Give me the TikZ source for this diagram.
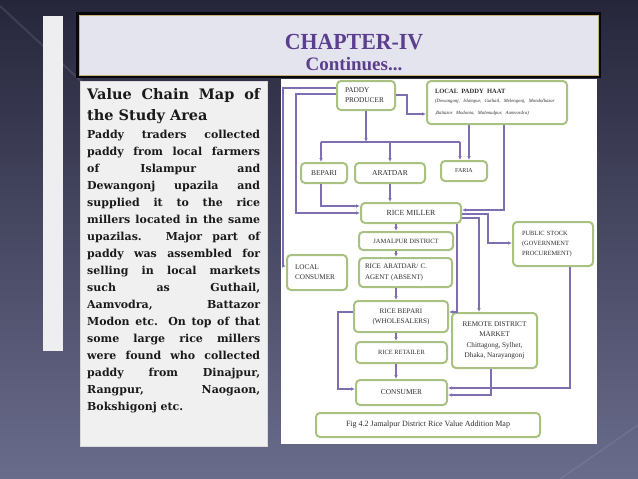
\documentclass[tikz,border=0pt]{standalone}
\usepackage{fontspec}
\usepackage{graphicx}
\setmainfont{Liberation Serif}
\newfontfamily\bodyfam{DejaVu Serif}
\usetikzlibrary{arrows.meta,calc}
\definecolor{bgtop}{HTML}{26263B}
\definecolor{bgbot}{HTML}{6A6C8C}
\definecolor{titlefill}{HTML}{E4E4EE}
\definecolor{titleedge}{HTML}{C8B27A}
\definecolor{titlepurple}{HTML}{5B3F8E}
\definecolor{panelgray}{HTML}{F0F0F0}
\definecolor{barwhite}{HTML}{EEEEF0}
\definecolor{boxgreen}{HTML}{A9C281}
\definecolor{arrowpurple}{HTML}{7F6FB0}
\definecolor{boxtext}{HTML}{2E2E2E}
\definecolor{textdark}{HTML}{1A1A1A}
\newcommand\bodyf{\bodyfam\bfseries\fontsize{11}{13}\selectfont}
\newcommand\headf{\bodyfam\bfseries\fontsize{14.5}{17}\selectfont}
\newcommand\jline[1]{\makebox[173pt][s]{#1}}
\tikzset{
  vbox/.style={draw=boxgreen, line width=2pt, fill=white, rounded corners=4pt,
    inner sep=2pt, text=boxtext},
  arr/.style={draw=arrowpurple, line width=1.1pt, -{Latex[length=4pt,width=3.6pt]}},
  wire/.style={draw=arrowpurple, line width=1.1pt},
  txtline/.style={anchor=base west, inner sep=0pt, text=textdark, font=\bodyf},
  headline/.style={anchor=base west, inner sep=0pt, text=textdark, font=\headf},
  titletext/.style={inner sep=0pt, text=titlepurple, font=\bfseries\fontsize{23}{23}\selectfont},
  conttext/.style={inner sep=0pt, text=titlepurple, font=\bfseries\fontsize{19}{19}\selectfont}
}
\begin{document}
\begin{tikzpicture}[x=1pt,y=-1pt]
\useasboundingbox (0,0) rectangle (638,479);
% background
\shade[top color=bgtop,bottom color=bgbot] (0,0) rectangle (638,479);
\draw[white,opacity=0.10,line width=2pt] (0,6) -- (82,82);
\draw[white,opacity=0.08,line width=1.5pt] (560,479) -- (638,425);
\fill[barwhite] (43,16) rectangle (63,351);
% title
\fill[black!80!bgtop] (76,12) rectangle (601,78);
\fill[titlefill] (79,15) rectangle (598,75);
\draw[titleedge,line width=0.6pt] (79,15) rectangle (598,75);
\node[titletext, anchor=base] (chap) at (354,49) {\scalebox{0.95}[1]{CHAPTER-IV}};
\node[conttext, anchor=base] (cont) at (354,70) {Continues...};
% left text panel
\fill[panelgray] (80,81) rectangle (267,446);
\draw[white!85!black,line width=0.5pt] (80,81) rectangle (267,446);
\node[headline] (h1) at (87,99) {\jline{Value Chain Map of}};
\node[headline] (h2) at (87,120) {the Study Area};
\node[txtline] (l1) at (87,138) {\jline{Paddy traders collected}};
\node[txtline] (l2) at (87,155) {\jline{paddy from local farmers}};
\node[txtline] (l3) at (87,172) {\jline{of Islampur and}};
\node[txtline] (l4) at (87,189) {\jline{Dewangonj upazila and}};
\node[txtline] (l5) at (87,206) {\jline{supplied it to the rice}};
\node[txtline] (l6) at (87,223) {\jline{millers located in the same}};
\node[txtline] (l7) at (87,240) {\jline{upazilas. Major part of}};
\node[txtline] (l8) at (87,257) {\jline{paddy was assembled for}};
\node[txtline] (l9) at (87,274) {\jline{selling in local markets}};
\node[txtline] (l10) at (87,291) {\jline{such as Guthail,}};
\node[txtline] (l11) at (87,308) {\jline{Aamvodra, Battazor}};
\node[txtline] (l12) at (87,325) {\jline{Modon etc. On top of that}};
\node[txtline] (l13) at (87,342) {\jline{some large rice millers}};
\node[txtline] (l14) at (87,359) {\jline{were found who collected}};
\node[txtline] (l15) at (87,376) {\jline{paddy from Dinajpur,}};
\node[txtline] (l16) at (87,393) {\jline{Rangpur, Naogaon,}};
\node[txtline] (l17) at (87,410) {Bokshigonj etc.};
% diagram panel
\fill[white] (281,79) rectangle (597,444);
% boxes
\node[vbox, minimum width=58pt, minimum height=29pt, text width=42pt, align=left,
  font=\fontsize{7.3}{10}\selectfont] (pp) at (366,95.5) {PADDY\\PRODUCER};
\node[vbox, minimum width=140pt, minimum height=43pt, text width=124pt, align=left]
  (haat) at (497,102.5) {{\bfseries\fontsize{6.5}{9}\selectfont LOCAL PADDY HAAT}\\
  \fontsize{4.8}{9}\selectfont\itshape (Dewangonj, Islampur, Guthail, Melengonj, Mondolbazar\\
  ,Battazor Modonia, Mahmudpur, Aamvordra)};
\node[vbox, minimum width=46pt, minimum height=20pt, font=\fontsize{7.4}{9}\selectfont]
  (bep) at (324,173) {BEPARI};
\node[vbox, minimum width=70pt, minimum height=20pt, font=\fontsize{7.6}{9}\selectfont]
  (ara) at (390,173) {ARATDAR};
\node[vbox, minimum width=46pt, minimum height=20pt, font=\fontsize{6}{8}\selectfont]
  (faria) at (464,171) {FARIA};
\node[vbox, minimum width=100pt, minimum height=20pt, font=\fontsize{7.8}{9}\selectfont]
  (rm) at (411,213) {RICE MILLER};
\node[vbox, minimum width=94pt, minimum height=18pt, font=\fontsize{6.5}{8}\selectfont]
  (jd) at (406,241) {JAMALPUR DISTRICT};
\node[vbox, minimum width=93pt, minimum height=29pt, text width=81pt, align=left,
  font=\fontsize{7}{11}\selectfont] (rad) at (405.5,272.5) {RICE ARATDAR/ C.\\AGENT (ABSENT)};
\node[vbox, minimum width=60pt, minimum height=35pt, text width=44pt, align=left,
  font=\fontsize{7.2}{10}\selectfont] (lc) at (317,272.5) {LOCAL\\CONSUMER};
\node[vbox, minimum width=94pt, minimum height=31pt, align=center,
  font=\fontsize{7.1}{10}\selectfont] (rb) at (401,316.5) {RICE BEPARI\\(WHOLESALERS)};
\node[vbox, minimum width=91pt, minimum height=21pt, font=\fontsize{6.4}{8}\selectfont]
  (rr) at (401.5,352.5) {RICE RETAILER};
\node[vbox, minimum width=91pt, minimum height=25pt, font=\fontsize{7.4}{9}\selectfont]
  (cons) at (401.5,392.5) {CONSUMER};
\node[vbox, minimum width=224pt, minimum height=24pt, font=\fontsize{8}{9}\selectfont]
  (fig) at (428,425) {Fig 4.2 Jamalpur District Rice Value Addition Map};
\node[vbox, minimum width=80pt, minimum height=44pt, text width=62pt, align=left,
  font=\fontsize{6.4}{10}\selectfont] (ps) at (553,244) {PUBLIC STOCK\\(GOVERNMENT\\PROCUREMENT)};
\node[vbox, minimum width=85pt, minimum height=55pt, align=center,
  font=\fontsize{7.2}{10.5}\selectfont] (rdm) at (494.5,340.5)
  {REMOTE DISTRICT\\MARKET\\Chittagong, Sylhet,\\Dhaka, Narayangonj};
% rail coordinates
\coordinate (r1) at (283,88);
\coordinate (r1b) at (283,266);
\coordinate (r2) at (296,94);
\coordinate (r2b) at (296,213);
\coordinate (r3) at (321,206);
\coordinate (busL) at (321,142);
\coordinate (busR) at (460,142);
\coordinate (h1) at (407,95);
\coordinate (h2) at (407,114);
\coordinate (hf) at (469,0);
\coordinate (hm) at (504,210);
\coordinate (p1) at (488,214);
\coordinate (p2) at (488,243);
\coordinate (q1) at (479,218);
\coordinate (s1) at (457,312);
\coordinate (t1) at (338,312);
\coordinate (t2) at (338,389);
\coordinate (u1) at (570,388);
\coordinate (v1) at (491,395);
\coordinate (xc) at (396,0);
% connectors
\draw[arr] (pp.west |- r1) -- (r1) -- (r1b) -- (lc.west |- r1b);
\draw[arr] (pp.west |- r2) -- (r2) -- (r2b) -- (rm.west |- r2b);
\draw[arr] (bep.south -| r3) -- (r3) -- (rm.west |- r3);
\draw[arr] (pp.south) -- (pp.south |- busL);
\draw[wire] (busL) -- (busR);
\draw[arr] (busL) -- (bep.north -| busL);
\draw[arr] (ara.north |- busL) -- (ara.north);
\draw[arr] (busR) -- (faria.north -| busR);
\draw[arr] (pp.east |- h1) -- (h1) -- (h2) -- (haat.west |- h2);
\draw[arr] (haat.south -| hf) -- (faria.north -| hf);
\draw[arr] (haat.south -| hm) -- (hm) -- (rm.east |- hm);
\draw[arr] (ara.south) -- (ara.south |- rm.north);
\draw[arr] (rm.east |- p1) -- (p1) -- (p2) -- (ps.west |- p2);
\draw[arr] (rm.east |- q1) -- (q1) -- (rdm.north -| q1);
\draw[arr] (rm.south -| s1) -- (s1) -- (rb.east |- s1);
\draw[arr] (rb.west |- t1) -- (t1) -- (t2) -- (cons.west |- t2);
\draw[arr] (ps.south -| u1) -- (u1) -- (cons.east |- u1);
\draw[arr] (rdm.south -| v1) -- (v1) -- (cons.east |- v1);
\draw[arr] (rm.south -| xc) -- (jd.north -| xc);
\draw[arr] (jd.south -| xc) -- (rad.north -| xc);
\draw[arr] (rad.south -| xc) -- (rb.north -| xc);
\draw[arr] (rb.south -| xc) -- (rr.north -| xc);
\draw[arr] (rr.south -| xc) -- (cons.north -| xc);
\end{tikzpicture}
\end{document}
